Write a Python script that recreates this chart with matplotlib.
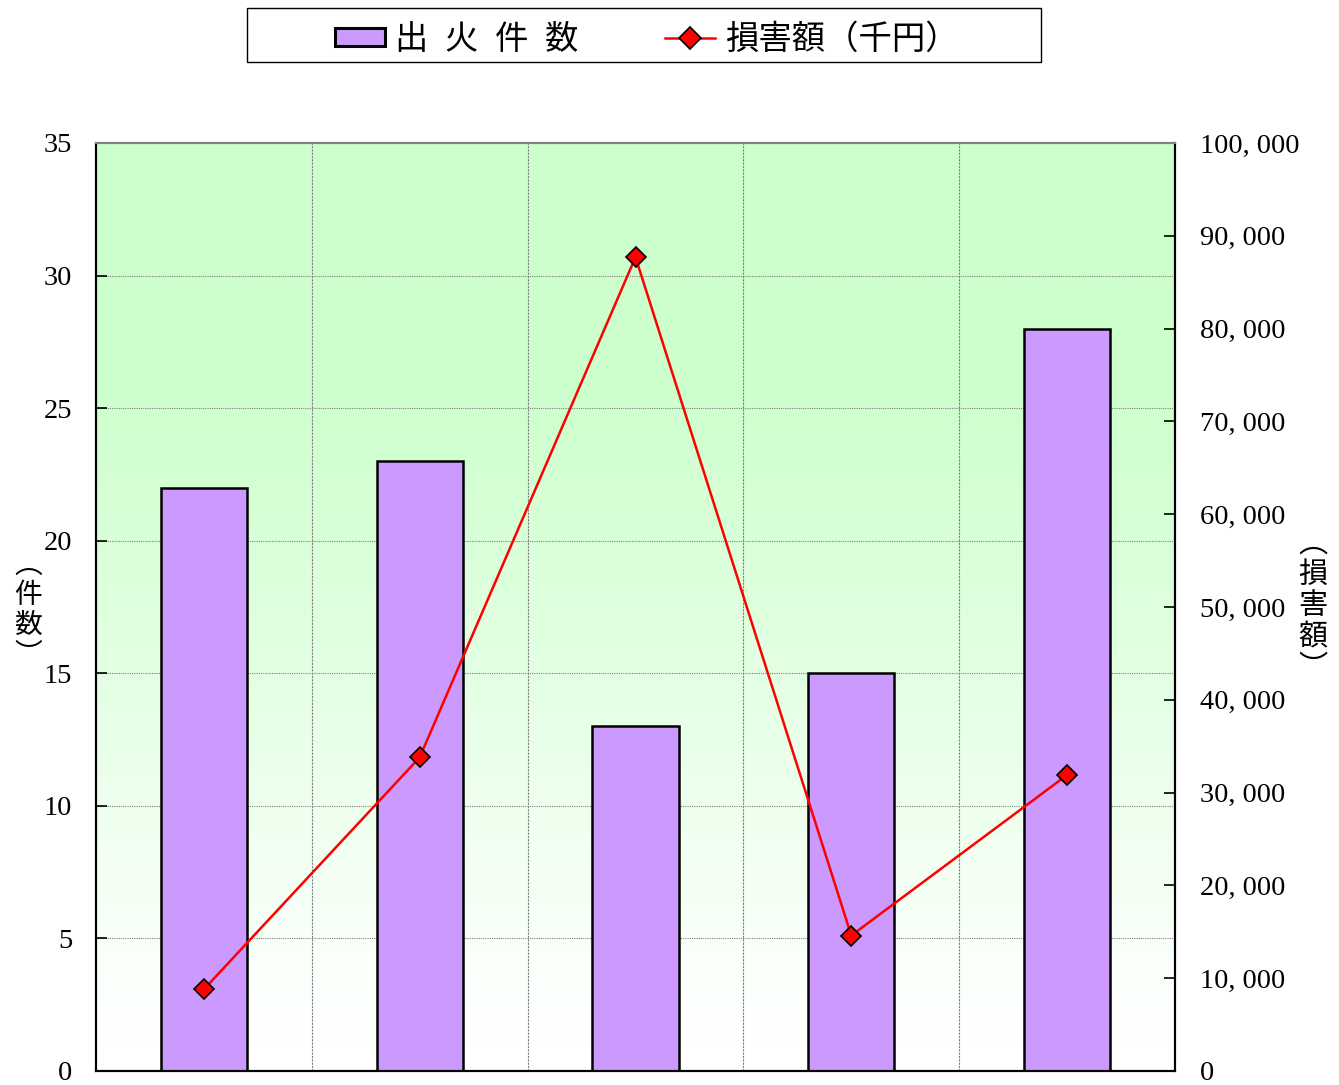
import matplotlib
matplotlib.use("Agg")
import matplotlib.pyplot as plt
import numpy as np
from matplotlib.patches import Rectangle, Patch
from matplotlib.lines import Line2D
from matplotlib.colors import LinearSegmentedColormap

# data
categories = ["A", "B", "C", "D", "E"]
fire_counts = [22, 23, 13, 15, 28]
damage_amounts = [8800, 33800, 87700, 14600, 31900]
left_ticks = [0, 5, 10, 15, 20, 25, 30, 35]
right_ticks = [0, 10000, 20000, 30000, 40000, 50000, 60000, 70000, 80000, 90000, 100000]

cjk = ["Noto Sans CJK JP", "DejaVu Sans"]
serif = "Liberation Serif"

fig = plt.figure(figsize=(13.39, 10.85), dpi=100)
ax = fig.add_axes([96/1339, 1-1071/1085, (1175-96)/1339, (1071-143)/1085])
ax2 = ax.twinx()

n = len(categories)
x = np.arange(n)
ax.set_xlim(-0.5, n-0.5)
ax.set_ylim(0, 35)
ax2.set_ylim(0, 100000)

# gradient background
grad = np.linspace(0, 1, 256).reshape(-1, 1)
cmap = LinearSegmentedColormap.from_list("g", [(0, "#ffffff"), (0.1, "#fbfffb"), (0.75, "#ccffcc"), (1, "#ccffcc")])
ax.imshow(grad, aspect="auto", cmap=cmap, origin="lower",
          extent=(-0.5, n-0.5, 0, 35), zorder=0)

# grid
for v in left_ticks[1:-1]:
    ax.axhline(v, color="#808080", lw=0.8, ls=(0, (1, 1)), zorder=1)
for b in np.arange(0.5, n-0.5, 1):
    ax.axvline(b, color="#808080", lw=0.8, ls=(0, (2, 1)), zorder=1)

ax.bar(x, fire_counts, width=0.4, color="#cc99ff", edgecolor="black", linewidth=1.8, zorder=2)
ax2.plot(x, damage_amounts, color="red", lw=1.8, marker="D", markersize=10,
         markerfacecolor="red", markeredgecolor="black", markeredgewidth=1.2, zorder=3)

ax.set_yticks(left_ticks)
ax.set_yticklabels([str(v) for v in left_ticks], fontfamily=serif, fontsize=20.5)
ax2.set_yticks(right_ticks)
ax2.set_yticklabels([("{:,}".format(v)).replace(",", ", ") for v in right_ticks], fontfamily=serif, fontsize=20.5)
ax.set_xticks(np.arange(0.5, n-0.5, 1))
ax.set_xticklabels([])
ax.tick_params(axis="y", direction="in", length=8, width=1.2, pad=17)
ax.tick_params(axis="x", direction="in", length=0)
ax2.tick_params(axis="y", direction="in", length=8, width=1.2, pad=18)

for a in (ax, ax2):
    a.spines["left"].set_linewidth(1.5)
    a.spines["right"].set_linewidth(1.5)
    a.spines["bottom"].set_linewidth(1.5)
    a.spines["top"].set_color("#808080")
    a.spines["top"].set_linewidth(1.5)
ax.set_zorder(ax2.get_zorder()-1)
ax2.patch.set_visible(False)

# axis labels (vertical text)
fig.text(28/1339, 1-610/1085, "︵\n件\n数\n︶", ha="center", va="center",
         fontsize=20, family=cjk, linespacing=1.0)
fig.text(1313/1339, 1-606/1085, "︵\n損\n害\n額\n︶", ha="center", va="center",
         fontsize=21, family=cjk, linespacing=1.05)

# legend
fig.patches.append(Rectangle((247/1339, 1-62/1085), (1041-247)/1339, (62-8)/1085,
                             transform=fig.transFigure, fill=False, edgecolor="black", lw=1.0))
handles = [Patch(facecolor="#cc99ff", edgecolor="black", linewidth=2.2),
           Line2D([0], [0], color="red", lw=1.8, marker="D", markersize=11,
                  markerfacecolor="red", markeredgecolor="black", markeredgewidth=1.2)]
fig.legend(handles, ["出\u2002火\u2002件\u2002数", "損害額（千円）"], loc="center",
           bbox_to_anchor=(647/1339, 1-39/1085), ncol=2, frameon=False,
           prop={"family": cjk, "size": 24}, columnspacing=2.6, handlelength=1.5,
           handletextpad=0.3, handleheight=0.45)

fig.savefig("out.png", dpi=100)
